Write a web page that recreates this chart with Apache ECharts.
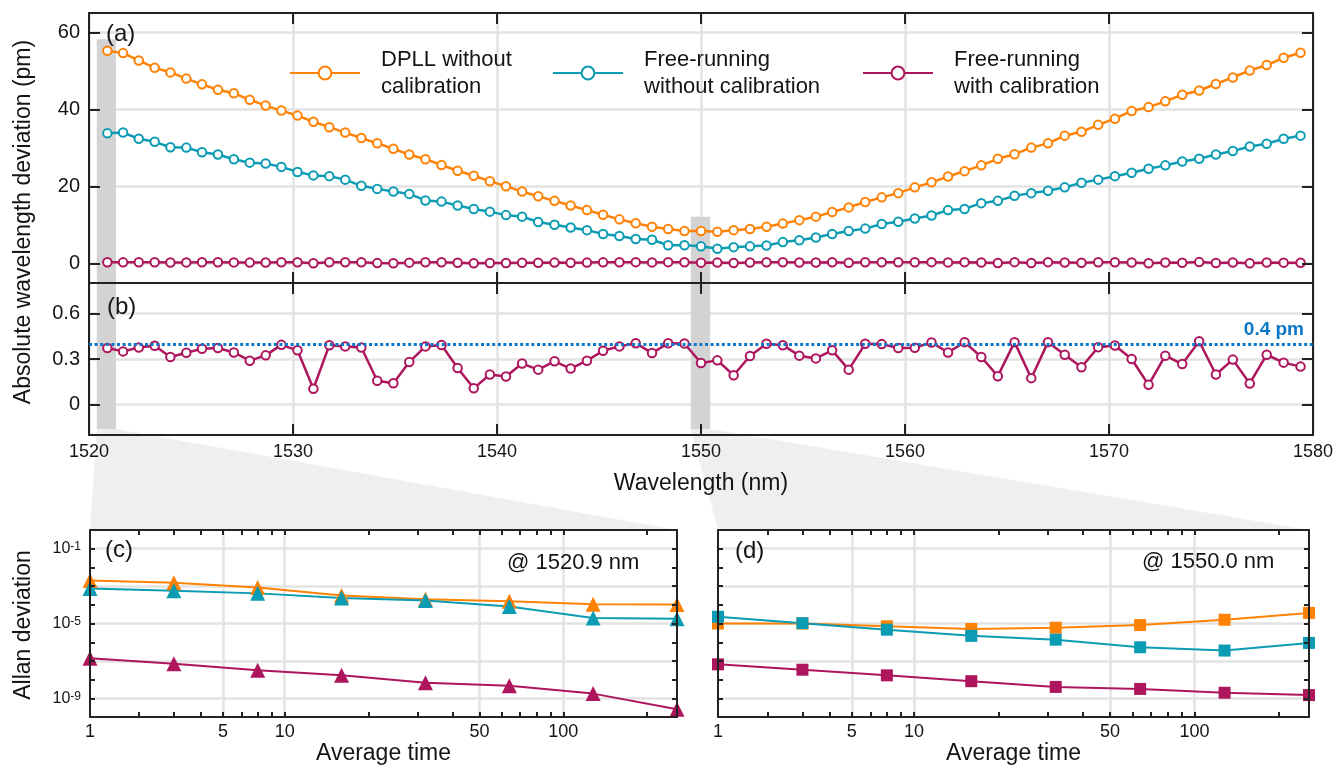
<!DOCTYPE html>
<html>
<head>
<meta charset="utf-8">
<script src="https://cdn.jsdelivr.net/npm/echarts@6/dist/echarts.min.js"></script>
<style>
html,body{margin:0;padding:0;background:#fff;}
#chart{width:1337px;height:766px;}
</style>
</head>
<body>
<div id="chart"></div>
<script>
// ---------------- DATA ----------------
const wavelengths = [
 1520.90,1521.67,1522.44,1523.22,1523.99,1524.77,1525.54,1526.32,1527.10,1527.88,
 1528.66,1529.43,1530.22,1531.00,1531.78,1532.56,1533.35,1534.13,1534.92,1535.70,
 1536.49,1537.28,1538.07,1538.86,1539.65,1540.44,1541.23,1542.02,1542.82,1543.61,
 1544.41,1545.20,1546.00,1546.80,1547.60,1548.39,1549.19,1550.00,1550.80,1551.60,
 1552.40,1553.21,1554.01,1554.82,1555.63,1556.43,1557.24,1558.05,1558.86,1559.67,
 1560.48,1561.30,1562.11,1562.92,1563.74,1564.55,1565.37,1566.19,1567.01,1567.83,
 1568.65,1569.47,1570.29,1571.11,1571.94,1572.76,1573.59,1574.42,1575.24,1576.07,
 1576.90,1577.73,1578.56,1579.39];

const dpllNoCal = [
 55.2,54.6,52.7,50.8,49.6,48.0,46.5,45.1,44.2,42.5,41.0,39.7,38.4,36.8,35.4,34.0,32.6,31.2,29.8,28.3,27.1,25.6,
 24.1,22.8,21.4,20.1,18.7,17.5,16.3,15.1,13.9,12.7,11.5,10.5,9.6,9.0,8.5,8.5,8.3,8.7,9.0,9.6,10.4,11.3,12.2,13.4,14.6,16.0,17.2,
 18.3,19.8,21.1,22.6,24.0,25.5,27.2,28.4,30.1,31.2,33.2,34.2,36.0,37.6,39.6,40.6,42.1,43.8,44.9,46.6,48.3,50.1,51.5,53.4,54.7];

const freeNoCal = [
 33.8,34.0,32.4,31.6,30.2,30.1,28.9,28.3,27.1,26.2,26.0,25.1,23.8,22.9,22.7,21.8,20.2,19.4,18.7,18.1,16.4,16.1,
 15.1,14.2,13.5,12.6,12.2,10.8,10.1,9.4,8.7,7.7,7.2,6.4,6.2,4.8,4.8,4.5,3.9,4.3,4.5,4.7,5.6,6.1,6.8,7.7,8.5,9.1,10.3,
 10.9,11.7,12.5,13.9,14.2,15.7,16.3,17.6,18.3,18.9,19.8,21.0,21.8,22.7,23.6,24.6,25.5,26.5,27.2,28.3,29.2,30.4,31.1,32.4,33.2];

const freeCal = [
 0.372,0.350,0.376,0.387,0.313,0.341,0.367,0.372,0.343,0.289,0.324,0.393,0.357,0.104,0.391,0.383,0.376,0.157,0.141,0.280,0.383,0.392,
 0.241,0.107,0.198,0.185,0.270,0.230,0.285,0.237,0.289,0.354,0.383,0.404,0.339,0.404,0.402,0.274,0.291,0.193,0.320,0.400,0.391,0.322,0.304,0.357,0.230,0.400,0.398,
 0.372,0.374,0.409,0.343,0.411,0.313,0.187,0.411,0.174,0.411,0.328,0.246,0.378,0.389,0.300,0.130,0.322,0.267,0.417,0.198,0.296,0.139,0.328,0.276,0.250];

const threshold = 0.4;

// highlighted wavelength columns (nm) and their heights
const bandRanges = [[1520.38, 1521.32], [1549.50, 1550.45]];
const bandTopsA = [58.2, 12.2];
const bandBottomB = -0.16;

// Allan deviation panels
const tau = [2, 4, 8, 16, 32, 64, 128, 256];
const adevDpllC = [2.0e-3, 1.5e-3, 8.5e-4, 3.2e-4, 2.0e-4, 1.55e-4, 1.07e-4, 1.03e-4];
const adevFreeC = [7.5e-4, 5.7e-4, 4.1e-4, 2.3e-4, 1.7e-4, 8.1e-5, 2.0e-5, 1.8e-5];
const adevCalC  = [1.4e-7, 7.1e-8, 3.2e-8, 1.7e-8, 6.9e-9, 4.7e-9, 1.8e-9, 2.6e-10];
const adevDpllD = [1.0e-5, 1.0e-5, 7.1e-6, 5.1e-6, 6.0e-6, 8.3e-6, 1.6e-5, 3.7e-5];
const adevFreeD = [2.3e-5, 1.05e-5, 4.7e-6, 2.2e-6, 1.38e-6, 5.4e-7, 3.6e-7, 9.2e-7];
const adevCalD  = [6.6e-8, 3.4e-8, 1.7e-8, 8.3e-9, 4.1e-9, 3.2e-9, 2.0e-9, 1.5e-9];

// tick definitions
const yTicksA = [0, 20, 40, 60];
const yTicksB = [0, 0.3, 0.6];
const tauTicks = [3,4,5,6,7,8,9,10,20,30,40,50,60,70,80,90,100,200];
const tauGrid = [6, 10, 50, 100];
const tauLabelPos = [2, 6, 10, 50, 100];
const tauLabelText = ['1', '5', '10', '50', '100'];
const adevTicks = [1e-9,1e-8,1e-7,1e-6,1e-5,1e-4,1e-3,1e-2,1e-1];
const adevGrid = [1e-9, 1e-7, 1e-5, 1e-3, 1e-1];
const adevLabelPos = [1e-9, 1e-5, 1e-1];

const seriesNames = ['DPLL without\ncalibration', 'Free-running\nwithout calibration', 'Free-running\nwith calibration'];

// ---------------- STYLE ----------------
const FONT = '"Liberation Sans", Arial, Helvetica, sans-serif';
const INK = '#141414';
const GRIDC = '#e3e3e3';
const FRAME = '#222222';
const COLORS = ['#ff8205', '#0b9cb3', '#ad155d'];
const BLUE = '#0a77c9';
const BAND = '#d3d3d3';
const WEDGE = '#efefef';

const grids = [
  {left: 89, top: 13, width: 1224, height: 270},
  {left: 89, top: 283, width: 1224, height: 152},
  {left: 90, top: 530, width: 587, height: 189},
  {left: 718, top: 530, width: 591, height: 189}
].map(g => Object.assign({containLabel: false, show: false}, g));

function frameLine() { return {show: true, onZero: false, lineStyle: {color: FRAME, width: 2}}; }
function ticks(len, vals) {
  const t = {show: true, inside: true, length: len, lineStyle: {color: FRAME, width: 2}};
  if (vals) t.customValues = vals;
  return t;
}
const xAxes = [], yAxes = [];

[0, 1].forEach(g => {
  xAxes.push({type: 'value', gridIndex: g, min: 1520, max: 1580, interval: 10, z: 0,
    axisLine: {show: false, onZero: false}, axisTick: {show: false},
    axisLabel: {show: g === 1, fontSize: 18, color: INK, fontFamily: FONT, margin: 8, formatter: v => String(v)},
    splitLine: {show: true, lineStyle: {color: GRIDC, width: 2.5}},
    name: g === 1 ? 'Wavelength (nm)' : '', nameLocation: 'middle', nameGap: 37,
    nameTextStyle: {fontSize: 23, color: INK, fontFamily: FONT}});
  ['bottom', 'top'].forEach(pos => xAxes.push({type: 'value', gridIndex: g, min: 1520, max: 1580, interval: 10,
    position: pos, z: 4, axisLine: frameLine(), axisTick: ticks(11), axisLabel: {show: false}, splitLine: {show: false}}));
  const yr = g === 0 ? [-5, 65] : [-0.2, 0.8];
  const yt = g === 0 ? yTicksA : yTicksB;
  yAxes.push({type: 'value', gridIndex: g, min: yr[0], max: yr[1], z: 0,
    axisLine: {show: false, onZero: false}, axisTick: {show: false, customValues: yt},
    axisLabel: {show: true, customValues: yt, fontSize: 20, color: INK, fontFamily: FONT, margin: 9, formatter: v => String(v)},
    splitLine: {show: true, lineStyle: {color: GRIDC, width: 2.5}}});
  ['left', 'right'].forEach(pos => yAxes.push({type: 'value', gridIndex: g, min: yr[0], max: yr[1],
    position: pos, z: 4, axisLine: frameLine(), axisTick: ticks(11, yt), axisLabel: {show: false}, splitLine: {show: false}}));
});

[2, 3].forEach(g => {
  xAxes.push({type: 'log', gridIndex: g, min: 2, max: 256, z: 0,
    axisLine: {show: false, onZero: false}, axisTick: {show: false, customValues: tauGrid},
    axisLabel: {show: false}, splitLine: {show: true, lineStyle: {color: GRIDC, width: 2.5}}});
  xAxes.push({type: 'log', gridIndex: g, min: 2, max: 256, position: 'bottom', z: 4,
    axisLine: frameLine(), axisTick: ticks(5, tauTicks),
    axisLabel: {show: true, customValues: tauLabelPos, fontSize: 18, color: INK, fontFamily: FONT, margin: 6,
      formatter: v => { const i = tauLabelPos.findIndex(p => Math.abs(p - v) < 0.01 * p); return i >= 0 ? tauLabelText[i] : ''; }},
    splitLine: {show: false},
    name: 'Average time', nameLocation: 'middle', nameGap: 23,
    nameTextStyle: {fontSize: 23, color: INK, fontFamily: FONT}});
  xAxes.push({type: 'log', gridIndex: g, min: 2, max: 256, position: 'top', z: 4,
    axisLine: frameLine(), axisTick: ticks(5, tauTicks), axisLabel: {show: false}, splitLine: {show: false}});
  yAxes.push({type: 'log', gridIndex: g, min: 1e-10, max: 1, z: 0,
    axisLine: {show: false, onZero: false}, axisTick: {show: false, customValues: adevGrid},
    axisLabel: {show: false}, splitLine: {show: true, lineStyle: {color: GRIDC, width: 2.5}}});
  yAxes.push({type: 'log', gridIndex: g, min: 1e-10, max: 1, position: 'left', z: 4,
    axisLine: frameLine(), axisTick: ticks(5, adevTicks),
    axisLabel: {show: g === 2, customValues: adevLabelPos, margin: 9, fontFamily: FONT, color: INK,
      formatter: v => '{b|10}{s|' + Math.round(Math.log10(v)) + '}',
      rich: {b: {fontSize: 16, fontFamily: FONT, color: INK, verticalAlign: 'bottom'},
             s: {fontSize: 12, fontFamily: FONT, color: INK, verticalAlign: 'bottom', padding: [0, 0, 4, 0]}}},
    splitLine: {show: false}});
  yAxes.push({type: 'log', gridIndex: g, min: 1e-10, max: 1, position: 'right', z: 4,
    axisLine: frameLine(), axisTick: ticks(5, adevTicks), axisLabel: {show: false}, splitLine: {show: false}});
});

// ---------------- SERIES ----------------
const series = [];
const pair = (xs, ys) => xs.map((x, i) => [x, ys[i]]);

// bands (under the data)
series.push({type: 'line', xAxisIndex: 0, yAxisIndex: 0, data: [], z: 1, silent: true,
  markArea: {silent: true, itemStyle: {color: BAND},
    data: bandRanges.map((r, i) => [{xAxis: r[0], yAxis: bandTopsA[i]}, {xAxis: r[1], yAxis: -5}])}});
series.push({type: 'line', xAxisIndex: 3, yAxisIndex: 3, data: [], z: 1, silent: true,
  markArea: {silent: true, itemStyle: {color: BAND},
    data: bandRanges.map(r => [{xAxis: r[0], yAxis: 0.8}, {xAxis: r[1], yAxis: bandBottomB}])},
  markLine: {silent: true, symbol: ['none', 'none'],
    lineStyle: {color: BLUE, width: 3, type: [3, 2.6]},
    label: {show: true, position: 'insideEndTop', formatter: () => threshold + ' pm', color: BLUE,
      fontWeight: 'bold', fontSize: 19, fontFamily: FONT, distance: [9, 5]},
    data: [{yAxis: threshold}]}});

const topData = [dpllNoCal, freeNoCal, freeCal];
topData.forEach((d, i) => series.push({
  type: 'line', name: seriesNames[i], xAxisIndex: 0, yAxisIndex: 0, z: 2,
  data: pair(wavelengths, d), symbol: 'emptyCircle', symbolSize: 8.5,
  lineStyle: {color: COLORS[i], width: 2.5}, itemStyle: {color: COLORS[i], borderWidth: 2.2}
}));
series.push({
  type: 'line', name: seriesNames[2], xAxisIndex: 3, yAxisIndex: 3, z: 2,
  data: pair(wavelengths, freeCal), symbol: 'emptyCircle', symbolSize: 8.5,
  lineStyle: {color: COLORS[2], width: 2.5}, itemStyle: {color: COLORS[2], borderWidth: 2.2}
});
[[adevDpllC, adevFreeC, adevCalC], [adevDpllD, adevFreeD, adevCalD]].forEach((set, p) => {
  const ax = p === 0 ? 6 : 9;
  set.forEach((d, i) => series.push({
    type: 'line', name: seriesNames[i], xAxisIndex: ax, yAxisIndex: ax, z: 2,
    data: pair(tau, d), symbol: p === 0 ? 'triangle' : 'rect', symbolSize: p === 0 ? 15 : 12,
    lineStyle: {color: COLORS[i], width: 2}, itemStyle: {color: COLORS[i]}
  }));
});

// ---------------- LEGEND ----------------
const legendLeft = [289, 552, 862];
const legends = seriesNames.map((n, i) => ({
  data: [n], left: legendLeft[i], top: 46, padding: 0, itemWidth: 70, itemHeight: 16,
  selectedMode: false,
  textStyle: {fontSize: 22, lineHeight: 27, color: INK, fontFamily: FONT, padding: [0, 0, 0, 16]}
}));

// ---------------- TEXT ----------------
function txt(id, text, x, y, size, opts) {
  return Object.assign({type: 'text', id: id, x: x, y: y, z: 10, silent: true,
    style: Object.assign({text: text, fontSize: size, fontFamily: FONT, fill: INK,
      textAlign: 'left', textVerticalAlign: 'middle', align: 'left', verticalAlign: 'middle'}, (opts && opts.style) || {})},
    opts && opts.rotation ? {rotation: opts.rotation} : {});
}
const texts = [
  txt('ta', '(a)', 106, 34, 24),
  txt('tb', '(b)', 107, 307, 24),
  txt('tc', '(c)', 105, 550, 24),
  txt('td', '(d)', 735, 551, 24),
  txt('t1', '@ 1520.9 nm', 507, 563, 22),
  txt('t2', '@ 1550.0 nm', 1142, 562, 22),
  txt('ty1', 'Absolute wavelength deviation (pm)', 24, 222, 23, {rotation: Math.PI / 2, style: {textAlign: 'center', align: 'center'}}),
  txt('ty2', 'Allan deviation', 24, 625, 23, {rotation: Math.PI / 2, style: {textAlign: 'center', align: 'center'}})
];

const option = {
  animation: false,
  backgroundColor: '#ffffff',
  textStyle: {fontFamily: FONT},
  grid: grids,
  xAxis: xAxes,
  yAxis: yAxes,
  legend: legends,
  series: series,
  graphic: {elements: texts}
};

const chart = echarts.init(document.getElementById('chart'), null, {renderer: 'canvas'});
chart.setOption(option);

// wedges connecting the highlighted columns to the Allan-deviation panels
function px(ax, pt) { return chart.convertToPixel({xAxisIndex: ax, yAxisIndex: ax}, pt); }
const wedges = bandRanges.map((r, i) => {
  const target = i === 0 ? 6 : 9;
  const bl = px(3, [r[0], bandBottomB]);
  const br = px(3, [r[1], bandBottomB]);
  const tl = px(target, [tau[0], 1]);
  const tr = px(target, [tau[tau.length - 1], 1]);
  return {type: 'polygon', id: 'w' + i, z: -5, silent: true,
    shape: {points: [bl, br, tr, tl]}, style: {fill: WEDGE}};
});
chart.setOption({graphic: {elements: texts.concat(wedges)}});
</script>
</body>
</html>
